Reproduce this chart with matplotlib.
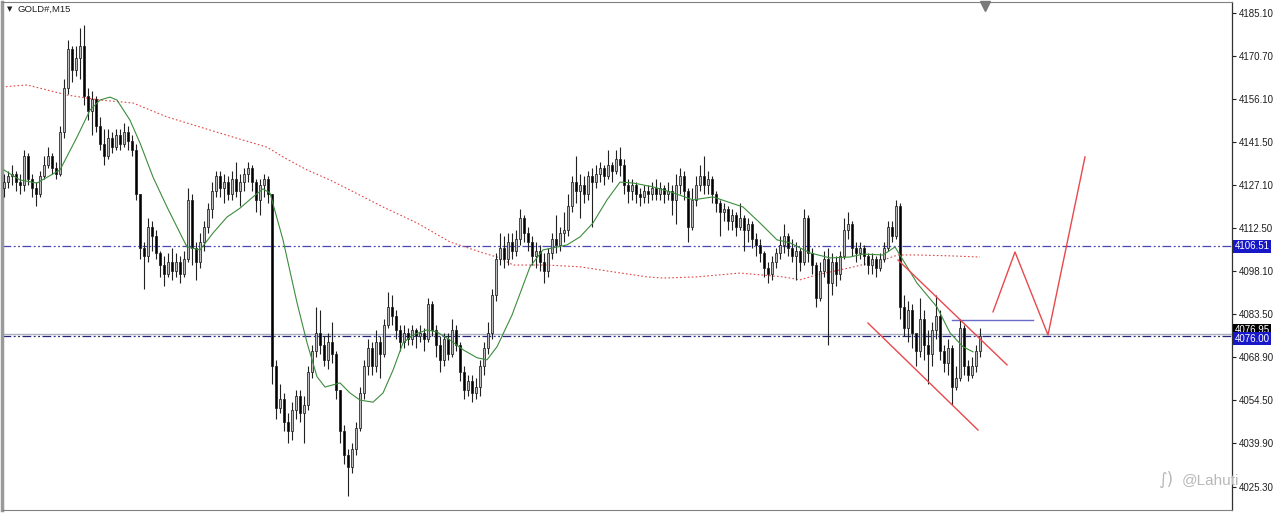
import matplotlib
matplotlib.use("Agg")
import matplotlib.pyplot as plt
import matplotlib.transforms as mtransforms

plt.rcParams['font.family'] = ['Liberation Sans', 'DejaVu Sans']

# GOLD#, M15 candles (one per bar, oldest first)
first_open = 4126
closes = [
    4128, 4130, 4131, 4128, 4127, 4137, 4129, 4126, 4124, 4130,
    4134, 4137, 4133, 4131, 4145, 4160, 4173, 4166, 4170, 4174,
    4157, 4152, 4156, 4147, 4141, 4137, 4143, 4140, 4144, 4141,
    4145, 4142, 4139, 4124, 4106, 4103, 4113, 4110, 4104, 4100,
    4097, 4101, 4098, 4101, 4097, 4102, 4122, 4106, 4101, 4108,
    4113, 4119, 4125, 4130, 4126, 4128, 4124, 4129, 4125, 4128,
    4131, 4133, 4128, 4122, 4127, 4129, 4124, 4066, 4052, 4055,
    4047, 4044, 4051, 4056, 4050, 4053, 4064, 4071, 4077, 4073,
    4068, 4074, 4070, 4058, 4044, 4036, 4032, 4038, 4045, 4057,
    4066, 4072, 4066, 4074, 4070, 4080, 4086, 4083, 4078, 4074,
    4077, 4075, 4078, 4076, 4077, 4075, 4087, 4078, 4073, 4068,
    4075, 4070, 4078, 4073, 4064, 4058, 4061, 4057, 4059, 4066,
    4072, 4077, 4090, 4102, 4106, 4102, 4108, 4105, 4109, 4116,
    4111, 4108, 4103, 4105, 4101, 4098, 4104, 4109, 4107, 4111,
    4112, 4120, 4128, 4125, 4127, 4124, 4130, 4128, 4131, 4133,
    4130, 4134, 4132, 4136, 4134, 4127, 4125, 4127, 4124, 4123,
    4125, 4124, 4126, 4124, 4126, 4124, 4125, 4122, 4127, 4130,
    4125, 4113, 4122, 4127, 4130, 4127, 4129, 4124, 4121, 4118,
    4119, 4115, 4117, 4113, 4116, 4112, 4114, 4109, 4107, 4104,
    4099, 4097, 4101, 4104, 4107, 4110, 4106, 4103, 4105, 4101,
    4116, 4104, 4100, 4089, 4098, 4102, 4094, 4101, 4097, 4103,
    4112, 4114, 4106, 4104, 4106, 4103, 4100, 4102, 4099, 4102,
    4106, 4113, 4110, 4120, 4086, 4079, 4085, 4077, 4071, 4082,
    4073, 4070, 4078, 4083, 4071, 4067, 4072, 4059, 4062, 4079,
    4066, 4063, 4066, 4071, 4076,
]
highs = [
    4131, 4132, 4134, 4132, 4131, 4139, 4138, 4131, 4128, 4132,
    4137, 4140, 4138, 4135, 4147, 4163, 4176, 4174, 4174, 4180,
    4181, 4160, 4159, 4157, 4150, 4146, 4146, 4145, 4146, 4146,
    4148, 4147, 4144, 4141, 4124, 4108, 4116, 4115, 4112, 4105,
    4103, 4104, 4106, 4104, 4103, 4105, 4126, 4124, 4108, 4111,
    4115, 4121, 4128, 4132, 4132, 4131, 4130, 4132, 4135, 4131,
    4133, 4135, 4134, 4129, 4129, 4131, 4130, 4124, 4068, 4060,
    4057, 4050, 4054, 4058, 4058, 4056, 4066, 4073, 4086, 4085,
    4076, 4077, 4081, 4071, 4058, 4046, 4038, 4040, 4047, 4059,
    4068, 4075, 4074, 4078, 4076, 4082, 4091, 4090, 4085, 4080,
    4080, 4079, 4080, 4079, 4080, 4079, 4089, 4088, 4080, 4076,
    4077, 4077, 4082, 4080, 4074, 4066, 4063, 4063, 4062, 4068,
    4074, 4081, 4092, 4104, 4111, 4110, 4111, 4111, 4112, 4119,
    4117, 4113, 4110, 4108, 4107, 4104, 4106, 4111, 4117, 4113,
    4118, 4124, 4130, 4137, 4131, 4130, 4132, 4133, 4134, 4135,
    4134, 4139, 4135, 4139, 4140, 4136, 4129, 4129, 4128, 4126,
    4127, 4127, 4128, 4129, 4128, 4127, 4128, 4127, 4131, 4133,
    4132, 4126, 4126, 4130, 4134, 4137, 4132, 4130, 4125, 4122,
    4121, 4120, 4119, 4118, 4121, 4117, 4116, 4115, 4111, 4109,
    4105, 4101, 4103, 4106, 4110, 4114, 4111, 4109, 4108, 4106,
    4119, 4117, 4106, 4101, 4101, 4105, 4106, 4104, 4103, 4105,
    4116, 4118, 4115, 4108, 4108, 4107, 4104, 4104, 4103, 4104,
    4108, 4115, 4115, 4122, 4121, 4090, 4088, 4087, 4076, 4089,
    4085, 4078, 4081, 4090, 4085, 4073, 4075, 4073, 4066, 4082,
    4080, 4068, 4069, 4073, 4079,
]
lows = [
    4123, 4126, 4127, 4125, 4124, 4125, 4127, 4123, 4120, 4123,
    4129, 4133, 4131, 4129, 4130, 4143, 4158, 4162, 4164, 4163,
    4154, 4149, 4144, 4145, 4139, 4134, 4136, 4138, 4139, 4139,
    4140, 4139, 4137, 4122, 4102, 4092, 4101, 4105, 4102, 4096,
    4093, 4096, 4095, 4096, 4094, 4096, 4101, 4100, 4095, 4099,
    4105, 4111, 4116, 4123, 4123, 4121, 4122, 4122, 4123, 4120,
    4125, 4128, 4125, 4118, 4117, 4123, 4121, 4060, 4048, 4050,
    4044, 4040, 4041, 4048, 4047, 4040, 4051, 4062, 4069, 4070,
    4066, 4065, 4067, 4055, 4040, 4033, 4022, 4030, 4036, 4044,
    4055, 4063, 4063, 4064, 4062, 4069, 4079, 4080, 4075, 4071,
    4072, 4073, 4073, 4072, 4074, 4071, 4074, 4076, 4069, 4064,
    4066, 4068, 4069, 4071, 4061, 4055, 4056, 4054, 4055, 4056,
    4063, 4070, 4075, 4088, 4100, 4099, 4100, 4102, 4103, 4107,
    4108, 4105, 4100, 4099, 4098, 4094, 4096, 4102, 4104, 4105,
    4108, 4110, 4118, 4121, 4116, 4121, 4122, 4113, 4126, 4128,
    4127, 4129, 4128, 4131, 4130, 4124, 4121, 4122, 4121, 4120,
    4121, 4121, 4122, 4122, 4122, 4121, 4122, 4117, 4114, 4124,
    4122, 4108, 4112, 4120, 4125, 4124, 4124, 4121, 4118, 4110,
    4115, 4112, 4112, 4110, 4112, 4105, 4108, 4106, 4103, 4101,
    4096, 4094, 4095, 4099, 4102, 4104, 4103, 4101, 4095, 4098,
    4100, 4101, 4097, 4086, 4088, 4096, 4073, 4090, 4093, 4095,
    4102, 4109, 4103, 4101, 4102, 4100, 4097, 4097, 4096, 4098,
    4101, 4105, 4108, 4109, 4082, 4076, 4074, 4072, 4066, 4069,
    4068, 4060, 4066, 4075, 4068, 4064, 4063, 4053, 4058, 4061,
    4063, 4061, 4062, 4064, 4069,
]

# moving averages: (bar index, price)
ma_fast_idx = [0, 4, 8.25, 14, 18.25, 21.5, 24, 26.5, 28.25, 31.5, 34, 37.25, 40.75, 44,
               45.75, 49, 52.25, 55.75, 59, 62.25, 64.75, 66.5, 69.75, 73.25, 75.75, 78.25,
               80.25, 84, 86.5, 89, 92.25, 94.75, 97.25, 99.75, 102.25, 105.75, 108.25,
               111.5, 114.75, 118.25, 120.75, 123.25, 127, 131.5, 134.75, 140.75, 144,
               147.25, 150.75, 154, 157.25, 162.25, 167.25, 172.25, 177.25, 184.75, 189,
               193.25, 196.5, 201.5, 206.5, 211.5, 214.75, 219.75, 222.75, 224.75, 228.25,
               233.25, 236.5, 239.75, 242.25]
ma_fast = [4132.2, 4128.8, 4127.8, 4132.2, 4143.3, 4152.4, 4155.8, 4156.8, 4155.8, 4149.0,
           4141.3, 4129.8, 4119.7, 4110.9, 4106.2, 4105.2, 4110.9, 4116.3, 4119.3, 4123.1,
           4125.8, 4124.4, 4108.6, 4087.4, 4073.9, 4062.4, 4058.9, 4060.3, 4056.9, 4054.5,
           4053.8, 4056.9, 4064.6, 4073.8, 4076.5, 4078.2, 4077.5, 4074.8, 4071.5, 4068.8,
           4068.1, 4072.5, 4083.2, 4099.5, 4105.2, 4106.9, 4109.6, 4114.3, 4122.1, 4128.1,
           4127.8, 4126.5, 4124.5, 4122.1, 4123.1, 4119.7, 4114.3, 4108.6, 4107.6, 4104.2,
           4102.5, 4102.8, 4103.8, 4103.5, 4106.2, 4101.8, 4094.0, 4085.9, 4077.2, 4072.5,
           4070.8]
ma_slow_idx = [-0.5, 5.75, 15.75, 24, 32.25, 40.75, 49, 57.25, 65.75, 69.75, 75.75, 81.5,
               86.5, 94.75, 103.25, 111.5, 119.75, 124, 127.25, 135.75, 144, 152.25,
               160.75, 164.75, 173.25, 184, 194.75, 199, 203.25, 211.5, 219.75, 223.5,
               228.25, 236.5, 244]
ma_slow = [4160.2, 4160.9, 4157.5, 4155.8, 4154.8, 4150.1, 4146.7, 4143.3, 4139.9, 4136.6,
           4132.2, 4128.8, 4125.4, 4119.7, 4114.3, 4107.9, 4104.2, 4102.5, 4100.1, 4100.1,
           4099.5, 4097.8, 4096.1, 4095.7, 4096.1, 4097.4, 4096.1, 4095.1, 4096.8, 4099.2,
           4101.8, 4103.5, 4103.5, 4103.2, 4102.8]

# horizontal levels
level_hi = 4106.51
level_lo = 4076.00
bid = 4076.95
box_level = 4081.5
box_from, box_to = 237, 257.25

# hand drawn objects (bar index, price)
chan_upper = ([223.5, 250.75], [4101.8, 4066.4])
chan_lower = ([216, 243.5], [4080.5, 4044.4])
zigzag_idx = [247.25, 252.75, 261, 270.25]
zigzag_px = [4084.3, 4104.5, 4076.5, 4136.6]

yticks = [4185.10, 4170.70, 4156.10, 4141.50, 4127.10, 4112.50, 4098.10,
          4083.50, 4068.90, 4054.50, 4039.90, 4025.30]

opens = [first_open] + closes[:-1]
n = len(closes)
idx = list(range(n))

fig = plt.figure(figsize=(12.8, 5.13), dpi=100)
ax = fig.add_axes([2 / 1280, 3 / 513, 1230 / 1280, 508 / 513])
ax.set_xlim(-0.5, 307)
ax.set_ylim(4017.4, 4188.9)

# levels
dashdotdot = (0, (7, 2, 1.5, 2, 1.5, 2))
ax.axhline(level_hi, color='#4646b4', lw=0.9, ls=dashdotdot, zorder=1)
ax.axhline(bid, color='#a9b0c0', lw=1.0, zorder=1)
ax.axhline(level_lo, color='#22227a', lw=0.9, ls=dashdotdot, zorder=1)
ax.plot([box_from, box_to], [box_level, box_level], color='#6a6ac8', lw=1.0, zorder=2)

# moving averages
ax.plot(ma_slow_idx, ma_slow, color='#e04848', lw=0.8, ls=(0, (1.5, 2)), zorder=2)
ax.plot(ma_fast_idx, ma_fast, color='#3c8c3c', lw=0.8, zorder=4)

# candles
bodies_lo = [min(o, c) for o, c in zip(opens, closes)]
bodies_h = [abs(c - o) for o, c in zip(opens, closes)]
face = ['#bcbcbc' if c >= o else '#000000' for o, c in zip(opens, closes)]
ax.vlines(idx, lows, highs, color='#202020', lw=0.8, zorder=3)
ax.bar(idx, bodies_h, bottom=bodies_lo, width=0.72, color=face,
       edgecolor='#202020', linewidth=0.55, zorder=3)

# drawings
ax.plot(chan_upper[0], chan_upper[1], color='#e8484c', lw=1.0, zorder=5)
ax.plot(chan_lower[0], chan_lower[1], color='#e8484c', lw=1.0, zorder=5)
ax.plot(zigzag_idx, zigzag_px, color='#e8484c', lw=1.0, zorder=5)

# chart shift marker
trans = mtransforms.blended_transform_factory(ax.transData, ax.transAxes)
ax.plot([245.25], [0.993], marker='v', ms=7, color='#7a7a7a', transform=trans,
        clip_on=False, zorder=6)

# axes styling
ax.set_xticks([])
ax.yaxis.tick_right()
ax.set_yticks(yticks)
ax.set_yticklabels([f"{t:.2f}" for t in yticks])
ax.tick_params(axis='y', direction='out', length=3, width=0.8, labelsize=7,
               pad=2, colors='#202020')
for side in ['top', 'bottom']:
    ax.spines[side].set_color('#808080')
    ax.spines[side].set_linewidth(0.8)
ax.spines['left'].set_color('#9a9a9a')
ax.spines['left'].set_linewidth(2.5)
ax.spines['right'].set_color('#303030')
ax.spines['right'].set_linewidth(0.9)

# price labels on the scale
lab = dict(xycoords=('axes fraction', 'data'), textcoords='offset points',
           fontsize=7, color='white', va='center', ha='left', zorder=10,
           annotation_clip=False)
ax.annotate(f"{bid:.2f}", xy=(1.0, bid), xytext=(2, 2.5),
            bbox=dict(boxstyle='square,pad=0.15', fc='#000000', ec='none'), **lab)
ax.annotate(f"{level_lo:.2f}", xy=(1.0, level_lo), xytext=(2, -1.5),
            bbox=dict(boxstyle='square,pad=0.15', fc='#1818c8', ec='none'), **lab)
ax.annotate(f"{level_hi:.2f}", xy=(1.0, level_hi), xytext=(2, 0),
            bbox=dict(boxstyle='square,pad=0.15', fc='#1818c8', ec='none'), **lab)

# title and watermark
fig.text(7 / 1280, 1 - 9 / 513, '▼', fontsize=5, color='#202020', va='center',
         family='DejaVu Sans')
fig.text(17 / 1280, 1 - 9 / 513, 'GOLD#,M15', fontsize=6.8, color='#202020', va='center')
fig.text(1158 / 1280, 1 - 480 / 513, '∫)', fontsize=12, color='#b8b8b8', va='center',
         family='DejaVu Sans')
fig.text(1182 / 1280, 1 - 480 / 513, '@Lahuti', fontsize=11, color='#b8b8b8',
         va='center')

fig.savefig('out.png', dpi=100, facecolor='white')
